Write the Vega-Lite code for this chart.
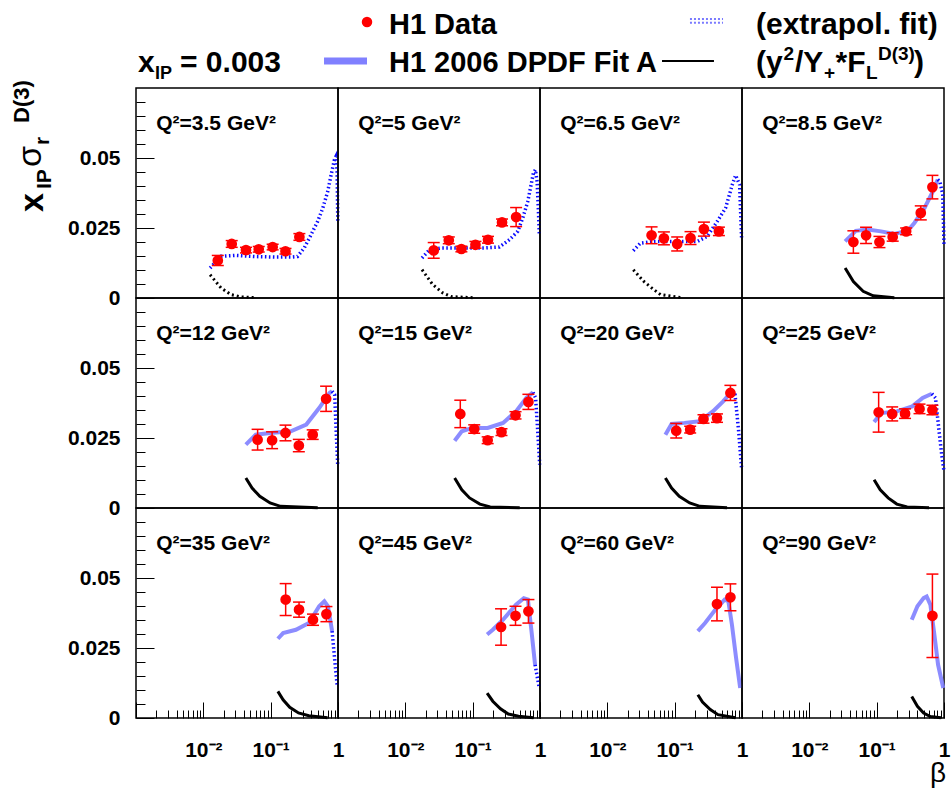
{
  "$schema": "https://vega.github.io/schema/vega-lite/v6.json",
  "background": "white",
  "padding": {"left": 10, "top": 0, "right": 0, "bottom": 2},
  "config": {
    "font": "Liberation Sans",
    "view": {"stroke": "black", "strokeWidth": 1.5},
    "axis": {"grid": false, "domain": false, "tickColor": "black", "tickWidth": 1, "labelColor": "black", "labelFont": "Liberation Sans", "labelFontWeight": "bold", "labelFontSize": 21, "labelOverlap": false, "labelFlush": false, "labelBound": false},
    "text": {"font": "Liberation Sans", "fontWeight": "bold", "color": "black"}
  },
  "title": {"text": "β", "orient": "bottom", "anchor": "end", "fontSize": 28, "fontWeight": "normal", "font": "Liberation Sans", "offset": 0, "dx": -6, "dy": -8, "color": "black"},
  "spacing": 4,
  "bounds": "flush",
  "datasets": {
    "h1": [
      {"p":1,"q":"3.5","t":"pt","b":0.0164,"v":0.0134,"e":0.0018},
      {"p":1,"q":"3.5","t":"pt","b":0.0264,"v":0.0193,"e":0.0012},
      {"p":1,"q":"3.5","t":"pt","b":0.043,"v":0.0171,"e":0.001},
      {"p":1,"q":"3.5","t":"pt","b":0.0665,"v":0.0174,"e":0.001},
      {"p":1,"q":"3.5","t":"pt","b":0.107,"v":0.0182,"e":0.001},
      {"p":1,"q":"3.5","t":"pt","b":0.166,"v":0.0167,"e":0.001},
      {"p":1,"q":"3.5","t":"pt","b":0.267,"v":0.0218,"e":0.0012},
      {"p":1,"q":"3.5","t":"ex","b":0.0126,"v":0.0107},
      {"p":1,"q":"3.5","t":"ex","b":0.0183,"v":0.0149},
      {"p":1,"q":"3.5","t":"ex","b":0.03,"v":0.0152},
      {"p":1,"q":"3.5","t":"ex","b":0.06,"v":0.0148},
      {"p":1,"q":"3.5","t":"ex","b":0.12,"v":0.0146},
      {"p":1,"q":"3.5","t":"ex","b":0.2,"v":0.0146},
      {"p":1,"q":"3.5","t":"ex","b":0.25,"v":0.0148},
      {"p":1,"q":"3.5","t":"ex","b":0.316,"v":0.0179},
      {"p":1,"q":"3.5","t":"ex","b":0.398,"v":0.0226},
      {"p":1,"q":"3.5","t":"ex","b":0.5,"v":0.0274},
      {"p":1,"q":"3.5","t":"ex","b":0.594,"v":0.0321},
      {"p":1,"q":"3.5","t":"ex","b":0.705,"v":0.0381},
      {"p":1,"q":"3.5","t":"ex","b":0.79,"v":0.044},
      {"p":1,"q":"3.5","t":"ex","b":0.886,"v":0.0494},
      {"p":1,"q":"3.5","t":"ex","b":0.937,"v":0.0506},
      {"p":1,"q":"3.5","t":"ex","b":0.97,"v":0.0452},
      {"p":1,"q":"3.5","t":"ex","b":0.993,"v":0.0274},
      {"p":1,"q":"3.5","t":"fld","b":0.0126,"v":0.0083},
      {"p":1,"q":"3.5","t":"fld","b":0.0183,"v":0.0036},
      {"p":1,"q":"3.5","t":"fld","b":0.0258,"v":0.0012},
      {"p":1,"q":"3.5","t":"fld","b":0.0363,"v":0.0004},
      {"p":1,"q":"3.5","t":"fld","b":0.0607,"v":0.0001},

      {"p":2,"q":"5","t":"pt","b":0.0264,"v":0.017,"e":0.0028},
      {"p":2,"q":"5","t":"pt","b":0.0442,"v":0.0206,"e":0.0012},
      {"p":2,"q":"5","t":"pt","b":0.068,"v":0.0175,"e":0.001},
      {"p":2,"q":"5","t":"pt","b":0.11,"v":0.019,"e":0.0012},
      {"p":2,"q":"5","t":"pt","b":0.169,"v":0.0208,"e":0.0012},
      {"p":2,"q":"5","t":"pt","b":0.273,"v":0.027,"e":0.0012},
      {"p":2,"q":"5","t":"pt","b":0.442,"v":0.0289,"e":0.0034},
      {"p":2,"q":"5","t":"ex","b":0.0177,"v":0.0143},
      {"p":2,"q":"5","t":"ex","b":0.0228,"v":0.0172},
      {"p":2,"q":"5","t":"ex","b":0.035,"v":0.0179},
      {"p":2,"q":"5","t":"ex","b":0.07,"v":0.0179},
      {"p":2,"q":"5","t":"ex","b":0.15,"v":0.0179},
      {"p":2,"q":"5","t":"ex","b":0.249,"v":0.0182},
      {"p":2,"q":"5","t":"ex","b":0.351,"v":0.0208},
      {"p":2,"q":"5","t":"ex","b":0.468,"v":0.0238},
      {"p":2,"q":"5","t":"ex","b":0.555,"v":0.0286},
      {"p":2,"q":"5","t":"ex","b":0.659,"v":0.0345},
      {"p":2,"q":"5","t":"ex","b":0.738,"v":0.0405},
      {"p":2,"q":"5","t":"ex","b":0.798,"v":0.0446},
      {"p":2,"q":"5","t":"ex","b":0.855,"v":0.0458},
      {"p":2,"q":"5","t":"ex","b":0.906,"v":0.0416},
      {"p":2,"q":"5","t":"ex","b":0.948,"v":0.0309},
      {"p":2,"q":"5","t":"ex","b":0.978,"v":0.0226},
      {"p":2,"q":"5","t":"fld","b":0.0177,"v":0.0101},
      {"p":2,"q":"5","t":"fld","b":0.0255,"v":0.0048},
      {"p":2,"q":"5","t":"fld","b":0.036,"v":0.0018},
      {"p":2,"q":"5","t":"fld","b":0.0478,"v":0.0005},
      {"p":2,"q":"5","t":"fld","b":0.1,"v":0.0001},

      {"p":3,"q":"6.5","t":"pt","b":0.0454,"v":0.0224,"e":0.003},
      {"p":3,"q":"6.5","t":"pt","b":0.0692,"v":0.0213,"e":0.0023},
      {"p":3,"q":"6.5","t":"pt","b":0.109,"v":0.0193,"e":0.0025},
      {"p":3,"q":"6.5","t":"pt","b":0.172,"v":0.0214,"e":0.0023},
      {"p":3,"q":"6.5","t":"pt","b":0.272,"v":0.0246,"e":0.0025},
      {"p":3,"q":"6.5","t":"pt","b":0.454,"v":0.0238,"e":0.0015},
      {"p":3,"q":"6.5","t":"ex","b":0.0243,"v":0.0169},
      {"p":3,"q":"6.5","t":"ex","b":0.0311,"v":0.0196},
      {"p":3,"q":"6.5","t":"ex","b":0.05,"v":0.0202},
      {"p":3,"q":"6.5","t":"ex","b":0.1,"v":0.0202},
      {"p":3,"q":"6.5","t":"ex","b":0.217,"v":0.0202},
      {"p":3,"q":"6.5","t":"ex","b":0.305,"v":0.022},
      {"p":3,"q":"6.5","t":"ex","b":0.43,"v":0.0274},
      {"p":3,"q":"6.5","t":"ex","b":0.57,"v":0.0321},
      {"p":3,"q":"6.5","t":"ex","b":0.718,"v":0.0405},
      {"p":3,"q":"6.5","t":"ex","b":0.804,"v":0.0438},
      {"p":3,"q":"6.5","t":"ex","b":0.921,"v":0.0405},
      {"p":3,"q":"6.5","t":"ex","b":0.986,"v":0.0214},
      {"p":3,"q":"6.5","t":"fld","b":0.0243,"v":0.0101},
      {"p":3,"q":"6.5","t":"fld","b":0.0349,"v":0.0059},
      {"p":3,"q":"6.5","t":"fld","b":0.049,"v":0.003},
      {"p":3,"q":"6.5","t":"fld","b":0.0617,"v":0.0012},
      {"p":3,"q":"6.5","t":"fld","b":0.13,"v":0.0001},

      {"p":4,"q":"8.5","t":"pt","b":0.0451,"v":0.02,"e":0.004},
      {"p":4,"q":"8.5","t":"pt","b":0.0696,"v":0.0224,"e":0.0029},
      {"p":4,"q":"8.5","t":"pt","b":0.11,"v":0.02,"e":0.002},
      {"p":4,"q":"8.5","t":"pt","b":0.173,"v":0.0218,"e":0.0015},
      {"p":4,"q":"8.5","t":"pt","b":0.274,"v":0.0238,"e":0.0012},
      {"p":4,"q":"8.5","t":"pt","b":0.452,"v":0.0304,"e":0.0025},
      {"p":4,"q":"8.5","t":"pt","b":0.673,"v":0.0396,"e":0.0042},
      {"p":4,"q":"8.5","t":"fit","b":0.034,"v":0.0202},
      {"p":4,"q":"8.5","t":"fit","b":0.049,"v":0.024},
      {"p":4,"q":"8.5","t":"fit","b":0.0736,"v":0.0245},
      {"p":4,"q":"8.5","t":"fit","b":0.116,"v":0.0238},
      {"p":4,"q":"8.5","t":"fit","b":0.183,"v":0.0229},
      {"p":4,"q":"8.5","t":"fit","b":0.289,"v":0.024},
      {"p":4,"q":"8.5","t":"fit","b":0.363,"v":0.0268},
      {"p":4,"q":"8.5","t":"fit","b":0.512,"v":0.0321},
      {"p":4,"q":"8.5","t":"fit","b":0.681,"v":0.038},
      {"p":4,"q":"8.5","t":"fit","b":0.808,"v":0.0423},
      {"p":4,"q":"8.5","t":"ex","b":0.808,"v":0.0423},
      {"p":4,"q":"8.5","t":"ex","b":0.87,"v":0.0415},
      {"p":4,"q":"8.5","t":"ex","b":0.957,"v":0.037},
      {"p":4,"q":"8.5","t":"ex","b":1.0,"v":0.019},
      {"p":4,"q":"8.5","t":"fl","b":0.034,"v":0.0107},
      {"p":4,"q":"8.5","t":"fl","b":0.0451,"v":0.0059},
      {"p":4,"q":"8.5","t":"fl","b":0.063,"v":0.0024},
      {"p":4,"q":"8.5","t":"fl","b":0.089,"v":0.0008},
      {"p":4,"q":"8.5","t":"fl","b":0.183,"v":0.0001},

      {"p":5,"q":"12","t":"pt","b":0.064,"v":0.0244,"e":0.0037},
      {"p":5,"q":"12","t":"pt","b":0.105,"v":0.0242,"e":0.003},
      {"p":5,"q":"12","t":"pt","b":0.166,"v":0.0268,"e":0.0028},
      {"p":5,"q":"12","t":"pt","b":0.262,"v":0.0223,"e":0.0022},
      {"p":5,"q":"12","t":"pt","b":0.421,"v":0.0262,"e":0.0017},
      {"p":5,"q":"12","t":"pt","b":0.666,"v":0.039,"e":0.0045},
      {"p":5,"q":"12","t":"fit","b":0.0428,"v":0.0226},
      {"p":5,"q":"12","t":"fit","b":0.06,"v":0.0262},
      {"p":5,"q":"12","t":"fit","b":0.098,"v":0.0268},
      {"p":5,"q":"12","t":"fit","b":0.199,"v":0.0274},
      {"p":5,"q":"12","t":"fit","b":0.338,"v":0.0298},
      {"p":5,"q":"12","t":"fit","b":0.525,"v":0.0357},
      {"p":5,"q":"12","t":"fit","b":0.748,"v":0.0411},
      {"p":5,"q":"12","t":"fit","b":0.817,"v":0.0417},
      {"p":5,"q":"12","t":"ex","b":0.817,"v":0.0417},
      {"p":5,"q":"12","t":"ex","b":0.892,"v":0.0405},
      {"p":5,"q":"12","t":"ex","b":0.94,"v":0.0274},
      {"p":5,"q":"12","t":"ex","b":0.99,"v":0.0155},
      {"p":5,"q":"12","t":"fl","b":0.0428,"v":0.0107},
      {"p":5,"q":"12","t":"fl","b":0.053,"v":0.0071},
      {"p":5,"q":"12","t":"fl","b":0.069,"v":0.0042},
      {"p":5,"q":"12","t":"fl","b":0.098,"v":0.0018},
      {"p":5,"q":"12","t":"fl","b":0.14,"v":0.0006},
      {"p":5,"q":"12","t":"fl","b":0.5,"v":0.0001},

      {"p":6,"q":"15","t":"pt","b":0.0655,"v":0.0336,"e":0.0049},
      {"p":6,"q":"15","t":"pt","b":0.1055,"v":0.0282,"e":0.0015},
      {"p":6,"q":"15","t":"pt","b":0.167,"v":0.0242,"e":0.0012},
      {"p":6,"q":"15","t":"pt","b":0.268,"v":0.0271,"e":0.0012},
      {"p":6,"q":"15","t":"pt","b":0.433,"v":0.0331,"e":0.0013},
      {"p":6,"q":"15","t":"pt","b":0.673,"v":0.0379,"e":0.0027},
      {"p":6,"q":"15","t":"fit","b":0.054,"v":0.024},
      {"p":6,"q":"15","t":"fit","b":0.069,"v":0.0274},
      {"p":6,"q":"15","t":"fit","b":0.098,"v":0.0286},
      {"p":6,"q":"15","t":"fit","b":0.167,"v":0.0286},
      {"p":6,"q":"15","t":"fit","b":0.283,"v":0.0304},
      {"p":6,"q":"15","t":"fit","b":0.44,"v":0.0345},
      {"p":6,"q":"15","t":"fit","b":0.627,"v":0.0393},
      {"p":6,"q":"15","t":"fit","b":0.788,"v":0.0413},
      {"p":6,"q":"15","t":"ex","b":0.788,"v":0.0413},
      {"p":6,"q":"15","t":"ex","b":0.861,"v":0.0393},
      {"p":6,"q":"15","t":"ex","b":0.925,"v":0.0274},
      {"p":6,"q":"15","t":"ex","b":0.99,"v":0.0155},
      {"p":6,"q":"15","t":"fl","b":0.054,"v":0.0107},
      {"p":6,"q":"15","t":"fl","b":0.069,"v":0.0065},
      {"p":6,"q":"15","t":"fl","b":0.09,"v":0.0036},
      {"p":6,"q":"15","t":"fl","b":0.128,"v":0.0014},
      {"p":6,"q":"15","t":"fl","b":0.182,"v":0.0004},
      {"p":6,"q":"15","t":"fl","b":0.5,"v":0.0001},

      {"p":7,"q":"20","t":"pt","b":0.1055,"v":0.0276,"e":0.0026},
      {"p":7,"q":"20","t":"pt","b":0.17,"v":0.028,"e":0.0012},
      {"p":7,"q":"20","t":"pt","b":0.268,"v":0.0318,"e":0.0015},
      {"p":7,"q":"20","t":"pt","b":0.425,"v":0.0321,"e":0.0015},
      {"p":7,"q":"20","t":"pt","b":0.673,"v":0.0411,"e":0.0027},
      {"p":7,"q":"20","t":"fit","b":0.0728,"v":0.0262},
      {"p":7,"q":"20","t":"fit","b":0.09,"v":0.03},
      {"p":7,"q":"20","t":"fit","b":0.14,"v":0.0304},
      {"p":7,"q":"20","t":"fit","b":0.237,"v":0.031},
      {"p":7,"q":"20","t":"fit","b":0.369,"v":0.0345},
      {"p":7,"q":"20","t":"fit","b":0.525,"v":0.0381},
      {"p":7,"q":"20","t":"fit","b":0.709,"v":0.0417},
      {"p":7,"q":"20","t":"ex","b":0.709,"v":0.0417},
      {"p":7,"q":"20","t":"ex","b":0.788,"v":0.0405},
      {"p":7,"q":"20","t":"ex","b":0.892,"v":0.0274},
      {"p":7,"q":"20","t":"ex","b":0.99,"v":0.0137},
      {"p":7,"q":"20","t":"fl","b":0.0728,"v":0.0107},
      {"p":7,"q":"20","t":"fl","b":0.09,"v":0.0071},
      {"p":7,"q":"20","t":"fl","b":0.117,"v":0.0042},
      {"p":7,"q":"20","t":"fl","b":0.167,"v":0.0018},
      {"p":7,"q":"20","t":"fl","b":0.237,"v":0.0006},
      {"p":7,"q":"20","t":"fl","b":0.6,"v":0.0001},

      {"p":8,"q":"25","t":"pt","b":0.107,"v":0.0342,"e":0.0071},
      {"p":8,"q":"25","t":"pt","b":0.17,"v":0.0336,"e":0.0025},
      {"p":8,"q":"25","t":"pt","b":0.264,"v":0.0337,"e":0.0017},
      {"p":8,"q":"25","t":"pt","b":0.433,"v":0.0354,"e":0.0017},
      {"p":8,"q":"25","t":"pt","b":0.673,"v":0.035,"e":0.0017},
      {"p":8,"q":"25","t":"fit","b":0.0916,"v":0.0307},
      {"p":8,"q":"25","t":"fit","b":0.117,"v":0.0339},
      {"p":8,"q":"25","t":"fit","b":0.199,"v":0.0345},
      {"p":8,"q":"25","t":"fit","b":0.338,"v":0.0363},
      {"p":8,"q":"25","t":"fit","b":0.481,"v":0.0393},
      {"p":8,"q":"25","t":"fit","b":0.661,"v":0.0408},
      {"p":8,"q":"25","t":"ex","b":0.661,"v":0.0408},
      {"p":8,"q":"25","t":"ex","b":0.748,"v":0.0393},
      {"p":8,"q":"25","t":"ex","b":0.845,"v":0.0274},
      {"p":8,"q":"25","t":"ex","b":0.925,"v":0.019},
      {"p":8,"q":"25","t":"ex","b":1.0,"v":0.0131},
      {"p":8,"q":"25","t":"fl","b":0.0916,"v":0.0101},
      {"p":8,"q":"25","t":"fl","b":0.113,"v":0.0065},
      {"p":8,"q":"25","t":"fl","b":0.148,"v":0.0036},
      {"p":8,"q":"25","t":"fl","b":0.199,"v":0.0014},
      {"p":8,"q":"25","t":"fl","b":0.283,"v":0.0004},
      {"p":8,"q":"25","t":"fl","b":0.6,"v":0.0001},

      {"p":9,"q":"35","t":"pt","b":0.167,"v":0.0423,"e":0.0057},
      {"p":9,"q":"35","t":"pt","b":0.264,"v":0.0387,"e":0.0027},
      {"p":9,"q":"35","t":"pt","b":0.425,"v":0.0351,"e":0.002},
      {"p":9,"q":"35","t":"pt","b":0.673,"v":0.0371,"e":0.0027},
      {"p":9,"q":"35","t":"fit","b":0.128,"v":0.0283},
      {"p":9,"q":"35","t":"fit","b":0.153,"v":0.0303},
      {"p":9,"q":"35","t":"fit","b":0.237,"v":0.0315},
      {"p":9,"q":"35","t":"fit","b":0.369,"v":0.0339},
      {"p":9,"q":"35","t":"fit","b":0.525,"v":0.0399},
      {"p":9,"q":"35","t":"fit","b":0.627,"v":0.0417},
      {"p":9,"q":"35","t":"fit","b":0.709,"v":0.0399},
      {"p":9,"q":"35","t":"fit","b":0.817,"v":0.031},
      {"p":9,"q":"35","t":"ex","b":0.817,"v":0.031},
      {"p":9,"q":"35","t":"ex","b":0.908,"v":0.019},
      {"p":9,"q":"35","t":"ex","b":0.975,"v":0.0113},
      {"p":9,"q":"35","t":"fl","b":0.128,"v":0.0095},
      {"p":9,"q":"35","t":"fl","b":0.153,"v":0.0065},
      {"p":9,"q":"35","t":"fl","b":0.192,"v":0.0038},
      {"p":9,"q":"35","t":"fl","b":0.259,"v":0.0018},
      {"p":9,"q":"35","t":"fl","b":0.369,"v":0.0008},
      {"p":9,"q":"35","t":"fl","b":0.7,"v":0.0001},

      {"p":10,"q":"45","t":"pt","b":0.264,"v":0.0325,"e":0.0065},
      {"p":10,"q":"45","t":"pt","b":0.433,"v":0.0365,"e":0.0034},
      {"p":10,"q":"45","t":"pt","b":0.673,"v":0.0381,"e":0.0042},
      {"p":10,"q":"45","t":"fit","b":0.164,"v":0.0298},
      {"p":10,"q":"45","t":"fit","b":0.199,"v":0.0315},
      {"p":10,"q":"45","t":"fit","b":0.283,"v":0.0351},
      {"p":10,"q":"45","t":"fit","b":0.44,"v":0.0405},
      {"p":10,"q":"45","t":"fit","b":0.574,"v":0.0428},
      {"p":10,"q":"45","t":"fit","b":0.661,"v":0.0423},
      {"p":10,"q":"45","t":"fit","b":0.748,"v":0.031},
      {"p":10,"q":"45","t":"fit","b":0.845,"v":0.019},
      {"p":10,"q":"45","t":"ex","b":0.845,"v":0.019},
      {"p":10,"q":"45","t":"ex","b":0.975,"v":0.0107},
      {"p":10,"q":"45","t":"fl","b":0.164,"v":0.0089},
      {"p":10,"q":"45","t":"fl","b":0.199,"v":0.006},
      {"p":10,"q":"45","t":"fl","b":0.259,"v":0.0033},
      {"p":10,"q":"45","t":"fl","b":0.338,"v":0.0014},
      {"p":10,"q":"45","t":"fl","b":0.481,"v":0.0006},
      {"p":10,"q":"45","t":"fl","b":0.8,"v":0.0001},

      {"p":11,"q":"60","t":"pt","b":0.425,"v":0.0407,"e":0.006},
      {"p":11,"q":"60","t":"pt","b":0.673,"v":0.0431,"e":0.0048},
      {"p":11,"q":"60","t":"fit","b":0.221,"v":0.031},
      {"p":11,"q":"60","t":"fit","b":0.283,"v":0.0339},
      {"p":11,"q":"60","t":"fit","b":0.403,"v":0.0387},
      {"p":11,"q":"60","t":"fit","b":0.553,"v":0.0423},
      {"p":11,"q":"60","t":"fit","b":0.627,"v":0.0417},
      {"p":11,"q":"60","t":"fit","b":0.709,"v":0.0333},
      {"p":11,"q":"60","t":"fit","b":0.817,"v":0.0214},
      {"p":11,"q":"60","t":"fit","b":0.94,"v":0.0107},
      {"p":11,"q":"60","t":"fl","b":0.221,"v":0.0083},
      {"p":11,"q":"60","t":"fl","b":0.259,"v":0.0057},
      {"p":11,"q":"60","t":"fl","b":0.338,"v":0.003},
      {"p":11,"q":"60","t":"fl","b":0.44,"v":0.0012},
      {"p":11,"q":"60","t":"fl","b":0.8,"v":0.0001},

      {"p":12,"q":"90","t":"pt","b":0.673,"v":0.0365,"e":0.0149},
      {"p":12,"q":"90","t":"fit","b":0.332,"v":0.0351},
      {"p":12,"q":"90","t":"fit","b":0.403,"v":0.0399},
      {"p":12,"q":"90","t":"fit","b":0.498,"v":0.0428},
      {"p":12,"q":"90","t":"fit","b":0.553,"v":0.0434},
      {"p":12,"q":"90","t":"fit","b":0.627,"v":0.0405},
      {"p":12,"q":"90","t":"fit","b":0.709,"v":0.031},
      {"p":12,"q":"90","t":"fit","b":0.817,"v":0.019},
      {"p":12,"q":"90","t":"fit","b":0.975,"v":0.0107},
      {"p":12,"q":"90","t":"fl","b":0.332,"v":0.0077},
      {"p":12,"q":"90","t":"fl","b":0.403,"v":0.0042},
      {"p":12,"q":"90","t":"fl","b":0.498,"v":0.0018},
      {"p":12,"q":"90","t":"fl","b":0.627,"v":0.0005},
      {"p":12,"q":"90","t":"fl","b":0.9,"v":0.0001}
    ]
  },
  "vconcat": [
    {
      "data": {"values": [{}]},
      "width": 808,
      "height": 84,
      "view": {"stroke": null},
      "encoding": {
        "x": {"datum": 0, "type": "quantitative", "scale": {"domain": [0, 1]}, "axis": null},
        "y": {"datum": 0, "type": "quantitative", "scale": {"domain": [0, 1], "reverse": true}, "axis": null}
      },
      "layer": [
        {"mark": {"type": "point", "shape": "circle", "filled": true, "size": 110, "color": "#ff0000", "opacity": 1},
         "encoding": {"x": {"datum": 0.2859}, "y": {"datum": 0.262}}},
        {"mark": {"type": "rule", "color": "#8080ff", "strokeWidth": 7},
         "encoding": {"x": {"datum": 0.2327}, "x2": {"datum": 0.2859}, "y": {"datum": 0.726}}},
        {"mark": {"type": "rule", "color": "#7a7aff", "strokeWidth": 2, "strokeDash": [2, 2]},
         "encoding": {"x": {"datum": 0.6856}, "x2": {"datum": 0.7265}, "y": {"datum": 0.225}}},
        {"mark": {"type": "rule", "color": "#7a7aff", "strokeWidth": 2, "strokeDash": [2, 2]},
         "encoding": {"x": {"datum": 0.6856}, "x2": {"datum": 0.7265}, "y": {"datum": 0.27}}},
        {"mark": {"type": "rule", "color": "black", "strokeWidth": 2},
         "encoding": {"x": {"datum": 0.651}, "x2": {"datum": 0.7153}, "y": {"datum": 0.726}}},
        {"mark": {"type": "text", "align": "left", "baseline": "alphabetic", "fontSize": 29},
         "encoding": {"x": {"datum": 0.3131}, "y": {"datum": 0.405}, "text": {"value": "H1 Data"}}},
        {"mark": {"type": "text", "align": "left", "baseline": "alphabetic", "fontSize": 29},
         "encoding": {"x": {"datum": 0.3131}, "y": {"datum": 0.857}, "text": {"value": "H1 2006 DPDF Fit A"}}},
        {"mark": {"type": "text", "align": "left", "baseline": "alphabetic", "fontSize": 30},
         "encoding": {"x": {"datum": 0.7673}, "y": {"datum": 0.405}, "text": {"value": "(extrapol. fit)"}}},
        {"mark": {"type": "text", "align": "left", "baseline": "alphabetic", "fontSize": 30, "dx": 0},
         "encoding": {"x": {"datum": 0.7673}, "y": {"datum": 0.857}, "text": {"value": "(y"}}},
        {"mark": {"type": "text", "align": "left", "baseline": "alphabetic", "fontSize": 19, "dx": 27.5, "dy": -12},
         "encoding": {"x": {"datum": 0.7673}, "y": {"datum": 0.857}, "text": {"value": "2"}}},
        {"mark": {"type": "text", "align": "left", "baseline": "alphabetic", "fontSize": 30, "dx": 39},
         "encoding": {"x": {"datum": 0.7673}, "y": {"datum": 0.857}, "text": {"value": "/Y"}}},
        {"mark": {"type": "text", "align": "left", "baseline": "alphabetic", "fontSize": 19, "dx": 68, "dy": 7},
         "encoding": {"x": {"datum": 0.7673}, "y": {"datum": 0.857}, "text": {"value": "+"}}},
        {"mark": {"type": "text", "align": "left", "baseline": "alphabetic", "fontSize": 30, "dx": 79.5},
         "encoding": {"x": {"datum": 0.7673}, "y": {"datum": 0.857}, "text": {"value": "*F"}}},
        {"mark": {"type": "text", "align": "left", "baseline": "alphabetic", "fontSize": 19, "dx": 110, "dy": 7},
         "encoding": {"x": {"datum": 0.7673}, "y": {"datum": 0.857}, "text": {"value": "L"}}},
        {"mark": {"type": "text", "align": "left", "baseline": "alphabetic", "fontSize": 19, "dx": 122, "dy": -12},
         "encoding": {"x": {"datum": 0.7673}, "y": {"datum": 0.857}, "text": {"value": "D(3)"}}},
        {"mark": {"type": "text", "align": "left", "baseline": "alphabetic", "fontSize": 30, "dx": 158},
         "encoding": {"x": {"datum": 0.7673}, "y": {"datum": 0.857}, "text": {"value": ")"}}},
        {"mark": {"type": "text", "align": "left", "baseline": "alphabetic", "fontSize": 30},
         "encoding": {"x": {"datum": 0.0025}, "y": {"datum": 0.857}, "text": {"value": "x"}}},
        {"mark": {"type": "text", "align": "left", "baseline": "alphabetic", "fontSize": 18, "dx": 17, "dy": 7},
         "encoding": {"x": {"datum": 0.0025}, "y": {"datum": 0.857}, "text": {"value": "IP"}}},
        {"mark": {"type": "text", "align": "left", "baseline": "alphabetic", "fontSize": 30, "dx": 42},
         "encoding": {"x": {"datum": 0.0025}, "y": {"datum": 0.857}, "text": {"value": "= 0.003"}}}
      ]
    },
    {
      "data": {"name": "h1"},
      "facet": {"field": "p", "type": "ordinal", "title": null, "header": {"labels": false, "labelExpr": "''", "labelPadding": 0}},
      "columns": 4,
      "spacing": 0,
      "bounds": "flush",
      "spec": {
        "width": 202,
        "height": 210,
        "encoding": {
          "x": {
            "type": "quantitative",
            "scale": {"type": "log", "domain": [0.001, 1]},
            "axis": {
              "title": null,
              "values": [0.001,0.002,0.003,0.004,0.005,0.006,0.007,0.008,0.009,0.01,0.02,0.03,0.04,0.05,0.06,0.07,0.08,0.09,0.1,0.2,0.3,0.4,0.5,0.6,0.7,0.8,0.9,1],
              "labelExpr": "datum.value == 0.01 ? '10⁻²' : datum.value == 0.1 ? '10⁻¹' : datum.value == 1 ? '1' : ''",
              "tickSize": {"condition": {"test": "datum.value == 0.001 || datum.value == 0.01 || datum.value == 0.1 || datum.value == 1", "value": -16}, "value": -8},
              "labelPadding": 37,
              "labelOverlap": false,
              "labelBound": false
            }
          },
          "y": {
            "type": "quantitative",
            "scale": {"domain": [0, 0.075]},
            "axis": {
              "title": null,
              "values": [0,0.005,0.01,0.015,0.02,0.025,0.03,0.035,0.04,0.045,0.05,0.055,0.06,0.065,0.07],
              "labelExpr": "datum.value == 0 ? '0' : datum.value == 0.025 ? '0.025' : datum.value == 0.05 ? '0.05' : ''",
              "tickSize": {"condition": {"test": "datum.value == 0 || datum.value == 0.025 || datum.value == 0.05", "value": -18}, "value": -9},
              "labelPadding": 34,
              "labelOverlap": false,
              "labelBound": false
            }
          }
        },
        "layer": [
          {
            "encoding": {"x": {"field": "b"}, "y": {"field": "v"}},
            "layer": [
              {"transform": [{"filter": "datum.t == 'fit'"}],
               "mark": {"type": "line", "color": "#8080ff", "strokeWidth": 4, "opacity": 0.9}},
              {"transform": [{"filter": "datum.t == 'ex'"}],
               "mark": {"type": "line", "color": "#0a0aff", "strokeWidth": 3.5, "strokeDash": [1.5, 2.5]}},
              {"transform": [{"filter": "datum.t == 'fl'"}],
               "mark": {"type": "line", "color": "black", "strokeWidth": 3}},
              {"transform": [{"filter": "datum.t == 'fld'"}],
               "mark": {"type": "line", "color": "black", "strokeWidth": 3, "strokeDash": [2, 3]}},
              {"transform": [{"filter": "datum.t == 'pt'"}, {"calculate": "datum.v - datum.e", "as": "lo"}, {"calculate": "datum.v + datum.e", "as": "hi"}],
               "mark": {"type": "rule", "color": "#ff0000", "strokeWidth": 1.5},
               "encoding": {"y": {"field": "lo"}, "y2": {"field": "hi"}}},
              {"transform": [{"filter": "datum.t == 'pt'"}, {"calculate": "datum.v + datum.e", "as": "hi"}],
               "mark": {"type": "tick", "orient": "horizontal", "size": 12, "thickness": 1.5, "color": "#ff0000", "opacity": 1},
               "encoding": {"y": {"field": "hi"}}},
              {"transform": [{"filter": "datum.t == 'pt'"}, {"calculate": "datum.v - datum.e", "as": "lo"}],
               "mark": {"type": "tick", "orient": "horizontal", "size": 12, "thickness": 1.5, "color": "#ff0000", "opacity": 1},
               "encoding": {"y": {"field": "lo"}}},
              {"transform": [{"filter": "datum.t == 'pt'"}],
               "mark": {"type": "point", "shape": "circle", "filled": true, "size": 115, "color": "#ff0000", "opacity": 1}}
            ]
          },
          {"transform": [{"filter": "datum.t == 'pt'"}, {"aggregate": [{"op": "count", "as": "n"}], "groupby": ["p", "q"]}, {"calculate": "'Q²=' + datum.q + ' GeV²'", "as": "lab"}],
           "mark": {"type": "text", "align": "left", "baseline": "alphabetic", "fontSize": 21},
           "encoding": {"x": {"datum": 0.002}, "y": {"datum": 0.06}, "text": {"field": "lab"}}},
          {"transform": [{"filter": "datum.t == 'pt'"}, {"aggregate": [{"op": "count", "as": "n"}], "groupby": ["p"]}, {"filter": "datum.p == 1"}],
           "mark": {"type": "text", "align": "left", "baseline": "alphabetic", "angle": 270, "fontSize": 34, "dx": 86, "dy": -93},
           "encoding": {"x": {"datum": 0.001}, "y": {"datum": 0}, "text": {"value": "x"}}},
          {"transform": [{"filter": "datum.t == 'pt'"}, {"aggregate": [{"op": "count", "as": "n"}], "groupby": ["p"]}, {"filter": "datum.p == 1"}],
           "mark": {"type": "text", "align": "left", "baseline": "alphabetic", "angle": 270, "fontSize": 21, "dx": 109, "dy": -85},
           "encoding": {"x": {"datum": 0.001}, "y": {"datum": 0}, "text": {"value": "IP"}}},
          {"transform": [{"filter": "datum.t == 'pt'"}, {"aggregate": [{"op": "count", "as": "n"}], "groupby": ["p"]}, {"filter": "datum.p == 1"}],
           "mark": {"type": "text", "align": "left", "baseline": "alphabetic", "angle": 270, "fontSize": 34, "fontWeight": "normal", "dx": 131, "dy": -95},
           "encoding": {"x": {"datum": 0.001}, "y": {"datum": 0}, "text": {"value": "σ"}}},
          {"transform": [{"filter": "datum.t == 'pt'"}, {"aggregate": [{"op": "count", "as": "n"}], "groupby": ["p"]}, {"filter": "datum.p == 1"}],
           "mark": {"type": "text", "align": "left", "baseline": "alphabetic", "angle": 270, "fontSize": 21, "dx": 153, "dy": -87},
           "encoding": {"x": {"datum": 0.001}, "y": {"datum": 0}, "text": {"value": "r"}}},
          {"transform": [{"filter": "datum.t == 'pt'"}, {"aggregate": [{"op": "count", "as": "n"}], "groupby": ["p"]}, {"filter": "datum.p == 1"}],
           "mark": {"type": "text", "align": "left", "baseline": "alphabetic", "angle": 270, "fontSize": 22, "dx": 175, "dy": -107},
           "encoding": {"x": {"datum": 0.001}, "y": {"datum": 0}, "text": {"value": "D(3)"}}}
        ]
      }
    }
  ]
}
